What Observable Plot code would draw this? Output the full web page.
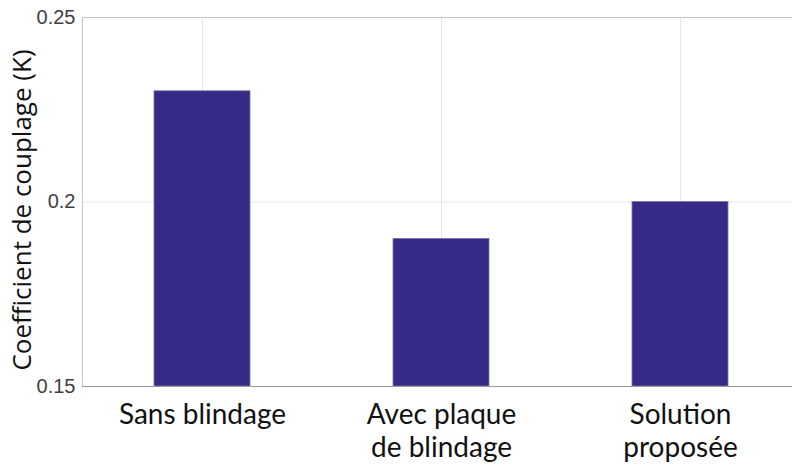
<!DOCTYPE html>
<html>
<head>
<meta charset="utf-8">
<script src="https://cdn.jsdelivr.net/npm/d3@7"></script>
<script src="https://cdn.jsdelivr.net/npm/@observablehq/plot@0.6"></script>
<style>
  html, body { margin: 0; padding: 0; background: #fff; overflow: hidden; }
  #chart svg { display: block; overflow: visible; }
</style>
</head>
<body>
<div id="chart"></div>
<script>
const categories = ["Sans blindage", "Avec plaque\nde blindage", "Solution\nproposée"];
const values = [0.23, 0.19, 0.20];
const yDomain = [0.15, 0.25];
const yTicks = [0.15, 0.2, 0.25];
const yLabel = "Coefficient de couplage (K)";

const data = categories.map((c, i) => ({cat: c, value: values[i]}));

const plot = Plot.plot({
  width: 792,
  height: 466,
  marginLeft: 82,
  marginRight: -8,
  marginTop: 17,
  marginBottom: 80,
  style: {background: "#fff"},
  x: {type: "band", domain: categories, paddingInner: 0.6, paddingOuter: 0.3, label: null},
  y: {domain: yDomain, label: null},
  marks: [
    Plot.gridX({stroke: "#e6e6e6", strokeOpacity: 1}),
    Plot.gridY(yTicks, {stroke: "#e6e6e6", strokeOpacity: 1}),
    Plot.frame({stroke: "#c4c4c4"}),
    Plot.barY(data, {x: "cat", y1: yDomain[0], y2: "value", fill: "#352a86", stroke: "#7a76a8", strokeWidth: 0.8}),
    Plot.ruleY([yDomain[0]], {stroke: "#999"}),
    Plot.axisY({
      ticks: yTicks,
      tickSize: 0,
      tickPadding: 7,
      tickFormat: d => String(d),
      fontSize: 20,
      fontFamily: "Liberation Sans, Arial, sans-serif",
      fill: "#404040",
      label: null
    }),
    Plot.axisX({
      tickSize: 0,
      tickPadding: 15,
      fontSize: 28,
      lineHeight: 1.15,
      fontFamily: "Lato, sans-serif",
      fill: "#111",
      label: null
    }),
    Plot.text([yLabel], {
      frameAnchor: "left",
      textAnchor: "middle",
      lineAnchor: "middle",
      rotate: -90,
      dx: -60,
      dy: 8,
      fontSize: 26,
      fontFamily: "Open Sans, sans-serif",
      fill: "#111"
    })
  ]
});
document.getElementById("chart").appendChild(plot);
</script>
</body>
</html>
